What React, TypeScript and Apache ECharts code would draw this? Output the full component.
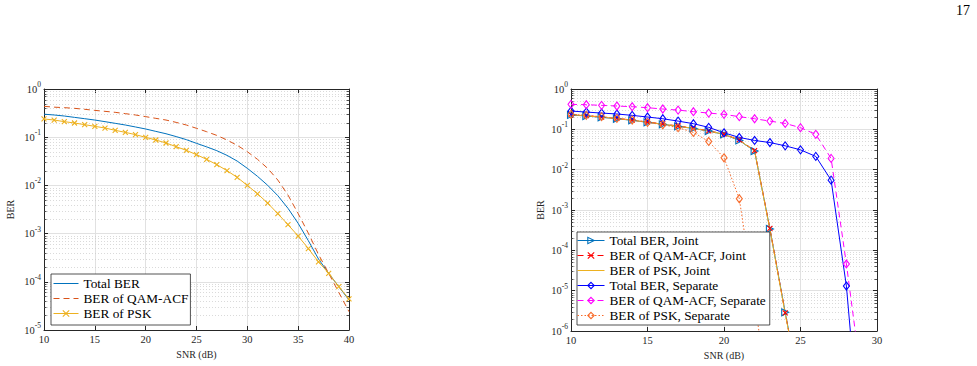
import React, { useEffect, useRef } from "react";
import * as echarts from "echarts";

// ---------- data ----------
const snrLeft = [10, 11, 12, 13, 14, 15, 16, 17, 18, 19, 20, 21, 22, 23, 24, 25, 26, 27, 28, 29, 30, 31, 32, 33, 34, 35, 36, 37, 38, 39, 40];
const totalBerLeft = [0.30, 0.289, 0.275, 0.258, 0.242, 0.227, 0.21, 0.194, 0.179, 0.163, 0.148, 0.132, 0.118, 0.103, 0.089, 0.0746, 0.063, 0.0525, 0.042, 0.032, 0.0226, 0.0154, 0.01005, 0.00612, 0.00334, 0.00163, 7.13e-4, 2.97e-4, 1.5e-4, 7.9e-5, 4.2e-5];
const qamBerLeft = [0.437, 0.42, 0.41, 0.397, 0.379, 0.36, 0.344, 0.328, 0.308, 0.289, 0.267, 0.246, 0.227, 0.203, 0.179, 0.153, 0.13, 0.109, 0.0875, 0.0678, 0.05, 0.0347, 0.0226, 0.0129, 0.0063, 0.0026, 0.00102, 3.7e-4, 1.5e-4, 6.0e-5, 2.4e-5];
const pskBerLeft = [0.239, 0.227, 0.21, 0.197, 0.182, 0.168, 0.155, 0.139, 0.126, 0.113, 0.0993, 0.0875, 0.0758, 0.0636, 0.0534, 0.0434, 0.0347, 0.0269, 0.0202, 0.0147, 0.01, 0.0067, 0.0043, 0.00259, 0.00153, 8.9e-4, 4.9e-4, 2.6e-4, 1.5e-4, 7.9e-5, 4.4e-5];

const snrJoint = [10, 11, 12, 13, 14, 15, 16, 17, 18, 19, 20, 21, 22, 23, 24, 25];
const totalJoint = [0.227, 0.214, 0.198, 0.183, 0.167, 0.149, 0.133, 0.118, 0.105, 0.0906, 0.0748, 0.053, 0.0289, 3.4e-4, 2.9e-6, 3e-8];
const qamJoint = [0.235, 0.218, 0.202, 0.186, 0.17, 0.152, 0.136, 0.121, 0.107, 0.092, 0.076, 0.055, 0.0295, 3.5e-4, 2.8e-6, 3e-8];
const pskJoint = [0.232, 0.216, 0.2, 0.185, 0.168, 0.15, 0.134, 0.119, 0.106, 0.091, 0.075, 0.054, 0.029, 3.3e-4, 2.7e-6, 3e-8];

const snrSep = [10, 11, 12, 13, 14, 15, 16, 17, 18, 19, 20, 21, 22, 23, 24, 25, 26, 27, 28, 29];
const totalSep = [0.284, 0.268, 0.253, 0.24, 0.222, 0.202, 0.183, 0.16, 0.138, 0.112, 0.082, 0.063, 0.053, 0.047, 0.039, 0.031, 0.0213, 0.0055, 1.3e-5, 6e-10];
const qamSep = [0.416, 0.408, 0.393, 0.378, 0.364, 0.344, 0.319, 0.30, 0.274, 0.253, 0.235, 0.206, 0.183, 0.16, 0.14, 0.11, 0.075, 0.019, 4.6e-5, 6e-8];
const snrPskSep = [10, 11, 12, 13, 14, 15, 16, 17, 18, 19, 20, 21, 22, 23];
const pskSep = [0.235, 0.222, 0.206, 0.187, 0.17, 0.149, 0.13, 0.11, 0.084, 0.05, 0.0197, 0.0019, 6e-6, 1e-8];

const leftDecades = [1e-5, 1e-4, 1e-3, 1e-2, 1e-1];
const rightDecades = [1e-6, 1e-5, 1e-4, 1e-3, 1e-2, 1e-1];
const minorMultipliers = [2, 3, 4, 5, 6, 7, 8, 9];

const leftNames = ["Total BER", "BER of QAM-ACF", "BER of PSK"];
const rightNames = [
  "Total BER, Joint",
  "BER of QAM-ACF, Joint",
  "BER of PSK, Joint",
  "Total BER, Separate",
  "BER of QAM-ACF, Separate",
  "BER of PSK, Separate",
];

// ---------- styling ----------
const FONT = "'Liberation Serif', 'Times New Roman', serif";
const AXC = "#262626";
const CROSS = "path://M0,0L10,10M10,0L0,10";
const HIDDEN = "rgba(0,0,0,0)";

const pair = (xs: number[], ys: number[]) => xs.map((x, i) => [x, ys[i]]);
const minorVals = (decs: number[], x0: number) => {
  const out: number[][] = [];
  decs.forEach((d) => minorMultipliers.forEach((m) => out.push([x0, m * d])));
  return out;
};

const yLabel = {
  color: AXC,
  margin: 3,
  formatter: (v: number) => `{b|10}{s|${Math.round(Math.log10(v))}}`,
  rich: {
    b: { fontSize: 10.5, fontFamily: FONT, color: AXC },
    s: { fontSize: 7.5, fontFamily: FONT, color: AXC, padding: [0, 0, 9, 0] },
  },
};

function makeAxesX(gridIndex: number, max: number) {
  return [
    {
      type: "value",
      gridIndex,
      min: 10,
      max,
      interval: 5,
      position: "bottom",
      name: "SNR (dB)",
      nameLocation: "middle",
      nameGap: 17,
      nameTextStyle: { fontFamily: FONT, fontSize: 10, color: AXC },
      axisLine: { show: true, lineStyle: { color: AXC, width: 1 } },
      axisTick: { show: true, inside: true, length: 4, lineStyle: { color: AXC } },
      axisLabel: { color: AXC, fontFamily: FONT, fontSize: 10.5, margin: 4 },
      splitLine: { show: true, lineStyle: { color: "#e1e1e1", width: 1 } },
    },
    {
      type: "value",
      gridIndex,
      min: 10,
      max,
      interval: 5,
      position: "top",
      axisLine: { show: true, lineStyle: { color: AXC, width: 1 } },
      axisTick: { show: true, inside: true, length: 4, lineStyle: { color: AXC } },
      axisLabel: { show: false },
      splitLine: { show: false },
    },
  ];
}

function makeAxesY(gridIndex: number, min: number, split: number, nameGap: number) {
  return [
    {
      type: "log",
      logBase: 10,
      gridIndex,
      min,
      max: 1,
      splitNumber: split,
      position: "left",
      name: "BER",
      nameLocation: "middle",
      nameGap,
      nameRotate: 90,
      nameTextStyle: { fontFamily: FONT, fontSize: 10, color: AXC },
      axisLine: { show: true, lineStyle: { color: AXC, width: 1 } },
      axisTick: { show: true, inside: true, length: 4, lineStyle: { color: AXC } },
      axisLabel: yLabel,
      splitLine: { show: true, lineStyle: { color: "#e1e1e1", width: 1 } },
    },
    {
      type: "log",
      logBase: 10,
      gridIndex,
      min,
      max: 1,
      splitNumber: split,
      position: "right",
      axisLine: { show: true, lineStyle: { color: AXC, width: 1 } },
      axisTick: { show: true, inside: true, length: 4, lineStyle: { color: AXC } },
      axisLabel: { show: false },
      splitLine: { show: false },
    },
  ];
}

function minorSeries(xi: number, yi: number, data: number[][]) {
  return {
    type: "custom",
    xAxisIndex: xi,
    yAxisIndex: yi,
    silent: true,
    z: 1,
    data,
    renderItem: (params: any, api: any) => {
      const p = api.coord([api.value(0), api.value(1)]);
      const cs = params.coordSys;
      const y = Math.round(p[1]) + 0.5;
      return {
        type: "group",
        children: [
          {
            type: "line",
            shape: { x1: cs.x, y1: y, x2: cs.x + cs.width, y2: y },
            style: { stroke: "#cacaca", lineWidth: 0.7, lineDash: [1, 2] },
          },
          {
            type: "line",
            shape: { x1: cs.x, y1: y, x2: cs.x + 2.5, y2: y },
            style: { stroke: AXC, lineWidth: 0.8 },
          },
          {
            type: "line",
            shape: { x1: cs.x + cs.width - 2.5, y1: y, x2: cs.x + cs.width, y2: y },
            style: { stroke: AXC, lineWidth: 0.8 },
          },
        ],
      };
    },
  };
}

function lineSeries(
  name: string,
  xi: number,
  data: number[][],
  color: string,
  dash: any,
  symbol: string,
  size: any,
  rotate = 0
) {
  return {
    type: "line",
    name,
    xAxisIndex: xi,
    yAxisIndex: xi,
    data,
    z: 3,
    clip: true,
    color,
    symbol,
    symbolSize: size,
    symbolRotate: rotate,
    showSymbol: symbol !== "none",
    lineStyle: { color, width: 1, type: dash },
    itemStyle: { color: HIDDEN, borderColor: color, borderWidth: 1.1 },
    emphasis: { disabled: true },
  };
}

const noMarker = (name: string) => ({
  name,
  itemStyle: { color: HIDDEN, borderColor: HIDDEN, borderWidth: 0 },
});

export default function App() {
  const ref = useRef<HTMLDivElement>(null);

  useEffect(() => {
    if (!ref.current) return;
    const chart = echarts.init(ref.current, undefined, { renderer: "svg" });

    const legendBase = {
      orient: "vertical",
      backgroundColor: "#ffffff",
      borderColor: AXC,
      borderWidth: 0.8,
      borderRadius: 0,
      itemGap: 0,
      itemHeight: 8,
      selectedMode: false,
      lineStyle: { width: 1 },
      itemStyle: { borderWidth: 1.1 },
      textStyle: { fontFamily: FONT, fontSize: 13.3, color: "#000", lineHeight: 15 },
    };

    const option: any = {
      animation: false,
      backgroundColor: "#ffffff",
      textStyle: { fontFamily: FONT },
      grid: [
        { left: 44, top: 89, width: 305, height: 241, containLabel: false },
        { left: 571, top: 89, width: 306, height: 242, containLabel: false },
      ],
      xAxis: [...makeAxesX(0, 40), ...makeAxesX(1, 30)],
      yAxis: [...makeAxesY(0, 1e-5, 5, 29), ...makeAxesY(1, 1e-6, 6, 26)],
      legend: [
        {
          ...legendBase,
          data: [noMarker(leftNames[0]), noMarker(leftNames[1]), { name: leftNames[2] }],
          left: 51,
          top: 274,
          itemWidth: 25,
          padding: [2, 2, 4, 2],
        },
        {
          ...legendBase,
          data: [
            { name: rightNames[0] },
            { name: rightNames[1] },
            noMarker(rightNames[2]),
            { name: rightNames[3] },
            { name: rightNames[4] },
            { name: rightNames[5] },
          ],
          left: 577,
          top: 232,
          itemWidth: 27,
          padding: [1, 4, 2, 0],
        },
      ],
      graphic: [
        {
          type: "text",
          left: 956,
          top: 3,
          style: { text: "17", font: `14px 'Liberation Serif'`, fill: "#000" },
        },
      ],
      series: [
        minorSeries(0, 0, minorVals(leftDecades, 10)),
        minorSeries(2, 2, minorVals(rightDecades, 10)),
        lineSeries(leftNames[0], 0, pair(snrLeft, totalBerLeft), "#0072BD", "solid", "none", 0),
        lineSeries(leftNames[1], 0, pair(snrLeft, qamBerLeft), "#D95319", [6, 4], "none", 0),
        lineSeries(leftNames[2], 0, pair(snrLeft, pskBerLeft), "#EDB120", "solid", CROSS, 5),
        lineSeries(rightNames[0], 2, pair(snrJoint, totalJoint), "#0072BD", "solid", "triangle", 7, -90),
        lineSeries(rightNames[1], 2, pair(snrJoint, qamJoint), "#FF0000", [6, 4], CROSS, 5),
        lineSeries(rightNames[2], 2, pair(snrJoint, pskJoint), "#EDB120", "solid", "none", 0),
        lineSeries(rightNames[3], 2, pair(snrSep, totalSep), "#0000FF", "solid", "diamond", [6, 8]),
        lineSeries(rightNames[4], 2, pair(snrSep, qamSep), "#FF00FF", [6, 4], "diamond", [6, 8]),
        lineSeries(rightNames[5], 2, pair(snrPskSep, pskSep), "#F86B2A", [1.5, 2], "diamond", [6, 8]),
      ],
    };

    chart.setOption(option);
    return () => chart.dispose();
  }, []);

  return (
    <div
      ref={ref}
      style={{ position: "absolute", left: 0, top: 0, width: 977, height: 366, background: "#fff" }}
    />
  );
}
